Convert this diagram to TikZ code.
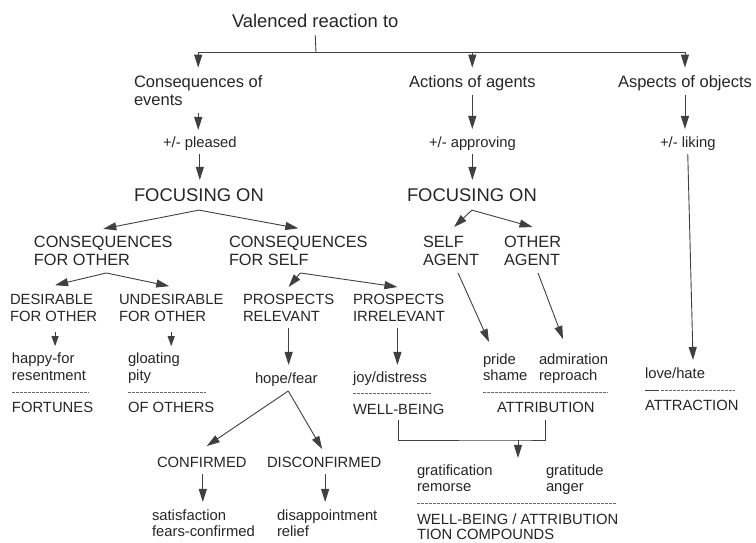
\documentclass[tikz,border=0pt]{standalone}
\usepackage{fontspec}
\setmainfont{Liberation Sans}
\usetikzlibrary{arrows.meta,calc}
\newcommand\mystr{\rule{0pt}{.9em}}
\newcommand\mydp{\rule[-.25em]{0pt}{0pt}}
\begin{document}
\begin{tikzpicture}[x=1pt,y=-1pt,
  txt/.style={inner sep=0pt,outer sep=0pt,anchor=north west,align=left,text=black!85},
  ttl/.style={txt,font=\fontsize{18.4}{22}\selectfont},
  cat/.style={txt,font=\fontsize{16.5}{18}\selectfont},
  foc/.style={txt,font=\fontsize{18.4}{22}\selectfont},
  mid/.style={txt,font=\fontsize{16.3}{18}\selectfont},
  sml/.style={txt,font=\fontsize{14.8}{16.5}\selectfont},
  ln/.style={draw=black!75,line width=0.9pt},
  arr/.style={ln,-{Triangle[length=13pt,width=8pt]}},
  arrs/.style={ln,-{Triangle[length=10pt,width=7pt]}},
  sep/.style={draw=black!60,line width=0.7pt,dash pattern=on 2.5pt off 1.5pt},
]
\fill[white] (0,0) rectangle (756,542);
\useasboundingbox (0,0) rectangle (756,542);

\node[ttl] (title) at (232,10.94) {\mystr Valenced reaction to\mydp};
\node[cat] (cev) at (134,72.65) {\mystr Consequences of\\events\mydp};
\node[cat] (act) at (409,72.65) {\mystr Actions of agents\mydp};
\node[cat] (asp) at (618,72.65) {\mystr Aspects of objects\mydp};
\node[sml] (pleased) at (163,134.18) {\mystr +/- pleased\mydp};
\node[sml] (approv) at (429,134.18) {\mystr +/- approving\mydp};
\node[sml] (liking) at (660,134.18) {\mystr +/- liking\mydp};
\node[foc] (focL) at (134,184.94) {\mystr FOCUSING ON\mydp};
\node[foc] (focR) at (407,184.94) {\mystr FOCUSING ON\mydp};
\node[mid] (cfo) at (34,232.83) {\mystr CONSEQUENCES\\FOR OTHER\mydp};
\node[mid] (cfs) at (229,232.83) {\mystr CONSEQUENCES\\FOR SELF\mydp};
\node[mid] (selfag) at (423,232.83) {\mystr SELF\\AGENT\mydp};
\node[mid] (othag) at (504,232.83) {\mystr OTHER\\AGENT\mydp};
\node[sml] (des) at (10,291.18) {\mystr DESIRABLE\\FOR OTHER\mydp};
\node[sml] (undes) at (119,291.18) {\mystr UNDESIRABLE\\FOR OTHER\mydp};
\node[sml] (prel) at (243,291.18) {\mystr PROSPECTS\\RELEVANT\mydp};
\node[sml] (pirr) at (353,291.18) {\mystr PROSPECTS\\IRRELEVANT\mydp};
\node[sml] (happy) at (12,350.18) {\mystr happy-for\\resentment\mydp};
\node[sml] (gloat) at (128,350.18) {\mystr gloating\\pity\mydp};
\node[sml] (hope) at (255,370.18) {\mystr hope/fear\mydp};
\node[sml] (joy) at (353,368.68) {\mystr joy/distress\mydp};
\node[sml] (pride) at (483,350.68) {\mystr pride\\shame\mydp};
\node[sml] (admir) at (539,350.68) {\mystr admiration\\reproach\mydp};
\node[sml] (love) at (645,364.68) {\mystr love/hate\mydp};
\node[sml] (fort) at (12,399.38) {\mystr FORTUNES\mydp};
\node[sml] (ofoth) at (128,399.38) {\mystr OF OTHERS\mydp};
\node[sml] (wb) at (353,400.68) {\mystr WELL-BEING\mydp};
\node[sml] (attrib) at (497,399.38) {\mystr ATTRIBUTION\mydp};
\node[sml] (attrac) at (645,397.38) {\mystr ATTRACTION\mydp};
\node[sml] (conf) at (157,453.98) {\mystr CONFIRMED\mydp};
\node[sml] (disconf) at (267,453.98) {\mystr DISCONFIRMED\mydp};
\node[sml] (satis) at (152,506.68) {\mystr satisfaction\\fears-confirmed\mydp};
\node[sml] (disap) at (277,506.68) {\mystr disappointment\\relief\mydp};
\node[sml] (grat) at (417,461.68) {\mystr gratification\\remorse\mydp};
\node[sml] (gratit) at (546,461.68) {\mystr gratitude\\anger\mydp};
\node[sml,font=\fontsize{14.8}{14.5}\selectfont] (wbattr) at (417,511.18) {\mystr WELL-BEING / ATTRIBUTION\\TION COMPOUNDS};

% separators
\draw[sep] (12,392) -- (89,392);
\draw[sep] (128,392) -- (206,392);
\draw[sep] (353,393) -- (431,393);
\draw[sep] (483,392) -- (608,392);
\draw[ln,line width=0.8pt] (645,390) -- (659,390);
\draw[sep] (661,390) -- (735,390);
\draw[sep] (417,503) -- (617,503);

% connectors
\coordinate (jt) at (316,52);
\draw[ln] ([yshift=-3pt]title.south) -- (jt);
\draw[ln] (cev.north |- jt) -- (asp.north |- jt);
\draw[arr] (cev.north |- jt) -- ([yshift=5pt]cev.north);
\draw[arr] (act.north |- jt) -- ([yshift=5pt]act.north);
\draw[arr] (asp.north |- jt) -- ([yshift=5pt]asp.north);

\draw[arr] ([yshift=-3.4pt]cev.south) -- ([yshift=4.2pt]cev.south |- pleased.north);
\draw[arr] ([yshift=-2.8pt]pleased.south) -- ([yshift=5pt]pleased.south |- focL.north);
\draw[arr] ([yshift=-3.4pt]act.south) -- ([yshift=5.2pt]act.south |- approv.north);
\draw[arr] ([yshift=-2.8pt]approv.south) -- ([yshift=5pt]approv.south |- focR.north);
\draw[arr] ([yshift=-3.4pt]asp.south) -- ([yshift=5.2pt]asp.south |- liking.north);
\draw[arr] ([yshift=-2.8pt]liking.south) -- ([xshift=18pt,yshift=4.7pt]love.north);

\draw[arr] ([yshift=-4pt]focL.south) -- ([yshift=4pt]cfo.north);
\draw[arr] ([yshift=-4pt]focL.south) -- ([yshift=4.5pt]cfs.north);
\draw[arr] ([yshift=-4pt]focR.south) -- ([xshift=3pt,yshift=5.8pt]selfag.north);
\draw[arr] ([yshift=-4pt]focR.south) -- ([yshift=5.8pt]othag.north);

\draw[arr] ([xshift=3pt,yshift=-3.4pt]cfo.south) -- ([xshift=1.5pt,yshift=6pt]des.north);
\draw[arr] ([xshift=3pt,yshift=-3.4pt]cfo.south) -- ([xshift=-2pt,yshift=5pt]undes.north);
\draw[arr] ([xshift=2pt,yshift=-3.4pt]cfs.south) -- ([yshift=4.2pt]prel.north);
\draw[arr] ([xshift=2pt,yshift=-3.4pt]cfs.south) -- ([xshift=-1.5pt,yshift=4.2pt]pirr.north);

\draw[arrs] ([xshift=1.5pt,yshift=-7pt]des.south) -- ([xshift=1.5pt,yshift=4pt]des.south |- happy.north);
\draw[arrs] ([yshift=-7pt]undes.south) -- ([yshift=4pt]undes.south |- gloat.north);
\draw[arr] ([yshift=-3.3pt]prel.south) -- ([yshift=5.2pt]prel.south |- hope.north);
\draw[arr] ([xshift=-1.5pt,yshift=-3.3pt]pirr.south) -- ([xshift=-1.5pt,yshift=3.7pt]pirr.south |- joy.north);

\draw[arr] ([xshift=2pt,yshift=-3.8pt]hope.south) -- ([xshift=5pt,yshift=8pt]conf.north);
\draw[arr] ([xshift=2pt,yshift=-3.8pt]hope.south) -- ([xshift=-2pt,yshift=5pt]disconf.north);
\draw[arr] ([xshift=1pt,yshift=-3pt]conf.south) -- ([xshift=1pt,yshift=4.7pt]conf.south |- satis.north);
\draw[arr] ([xshift=1pt,yshift=-3pt]disconf.south) -- ([xshift=1pt,yshift=4.7pt]disconf.south |- disap.north);

\draw[arr] ([xshift=7pt,yshift=-3.4pt]selfag.south) -- ([xshift=6pt,yshift=8.7pt]pride.north west);
\draw[arr] ([xshift=5.5pt,yshift=-3.4pt]othag.south) -- ([xshift=24pt,yshift=11.7pt]admir.north west);

\coordinate (jb) at (518,440);
\draw[ln] ([yshift=-2.3pt]wb.south) |- (jb) -| ([yshift=-3.5pt]attrib.south);
\draw[arr] (jb) -- ([yshift=3.7pt]jb |- grat.north);
\end{tikzpicture}
\end{document}
